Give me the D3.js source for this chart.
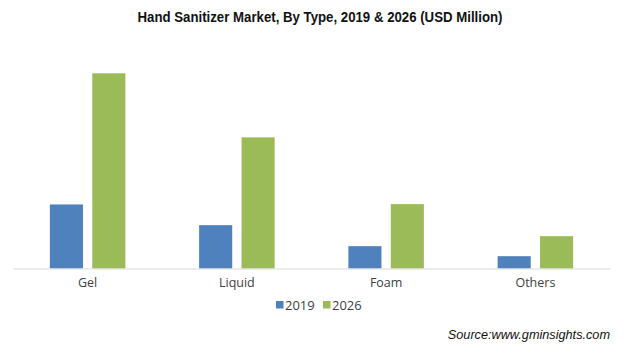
<!DOCTYPE html>
<html>
<head>
<meta charset="utf-8">
<script src="https://cdn.jsdelivr.net/npm/d3@7"></script>
<style>
  html, body { margin: 0; padding: 0; background: #fff; }
  svg { display: block; }
</style>
</head>
<body>
<svg id="chart" width="624" height="354"></svg>
<script>
const categories = ["Gel", "Liquid", "Foam", "Others"];
const seriesNames = ["2019", "2026"];
const values2019 = [64, 43.3, 22.3, 12.3];
const values2026 = [195, 131, 64.3, 32.3];
const colors = ["#4F81BD", "#9BBB59"];

const svg = d3.select("#chart");
const baseline = 268.5;
const x0 = d3.scaleBand().domain(categories).range([13, 610]).paddingInner(0).paddingOuter(0);
const x1 = d3.scaleBand().domain(seriesNames).range([0, 75.5]).paddingInner(0.22);
const y = d3.scaleLinear().domain([0, 195]).range([baseline, 73.3]);

const groupOffset = (x0.bandwidth() - 75.5) / 2;
const data = categories.map((c, i) => ({ cat: c, vals: [values2019[i], values2026[i]] }));

const g = svg.append("g");
const groups = g.selectAll("g.grp").data(data).join("g")
  .attr("transform", d => `translate(${x0(d.cat) + groupOffset},0)`);
groups.selectAll("rect").data(d => d.vals.map((v, j) => ({ v, s: seriesNames[j], j })))
  .join("rect")
  .attr("x", d => x1(d.s))
  .attr("width", x1.bandwidth())
  .attr("y", d => y(d.v))
  .attr("height", d => baseline - y(d.v))
  .attr("fill", d => colors[d.j]);

// baseline axis
const xAxis = d3.axisBottom(x0).tickSize(0).tickPadding(9);
const ax = svg.append("g").attr("transform", `translate(0,${baseline})`).call(xAxis);
ax.select(".domain").attr("stroke", "#d9d9d9").attr("stroke-width", 1.2);
ax.selectAll("text")
  .attr("font-family", "'Open Sans', sans-serif")
  .attr("font-size", "12.5px").attr("fill", "#404040")
  .attr("dy", null).attr("y", 18.5);

// title
svg.append("text").attr("x", 320).attr("y", 22.3).attr("text-anchor", "middle")
  .attr("font-family", "'Liberation Sans', Arial, sans-serif")
  .attr("font-weight", "bold").attr("font-size", "14px").attr("fill", "#111")
  .attr("textLength", 365).attr("lengthAdjust", "spacingAndGlyphs")
  .text("Hand Sanitizer Market, By Type, 2019 & 2026 (USD Million)");

// legend
const legend = svg.append("g").attr("transform", "translate(276,305)");
const items = legend.selectAll("g").data(seriesNames).join("g")
  .attr("transform", (d, i) => `translate(${i * 47},0)`);
items.append("rect").attr("x", 0).attr("y", -4).attr("width", 7.5).attr("height", 7.5)
  .attr("fill", (d, i) => colors[i]);
items.append("text").attr("x", 9).attr("y", 4.7)
  .attr("font-family", "'Open Sans', sans-serif")
  .attr("font-size", "13px").attr("fill", "#404040").text(d => d);

// source
svg.append("text").attr("x", 610).attr("y", 339).attr("text-anchor", "end")
  .attr("font-family", "'Liberation Sans', Arial, sans-serif")
  .attr("font-style", "italic").attr("font-size", "12.7px").attr("fill", "#111")
  .text("Source:www.gminsights.com");
</script>
</body>
</html>
